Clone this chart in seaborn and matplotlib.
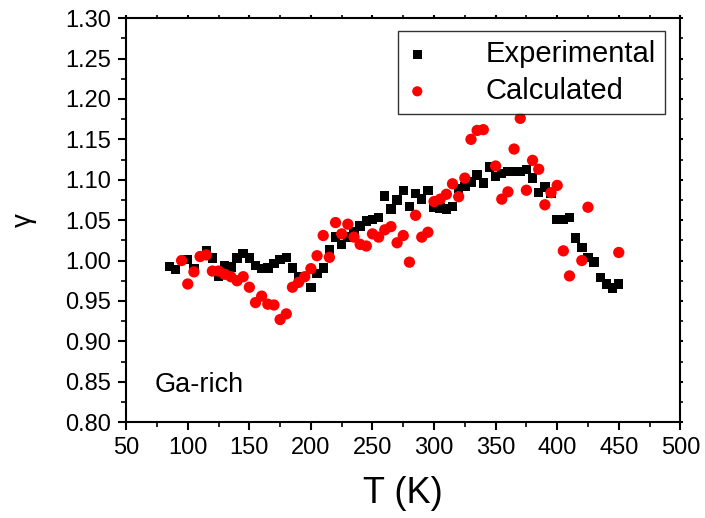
import matplotlib
matplotlib.use("Agg")
import matplotlib.pyplot as plt
import seaborn as sns
import pandas as pd
from matplotlib.ticker import MultipleLocator, FormatStrFormatter

sns.set_style("ticks")
plt.rcParams['font.family'] = ['Liberation Sans', 'DejaVu Sans']
plt.rcParams['text.color'] = 'black'
plt.rcParams['axes.labelcolor'] = 'black'
plt.rcParams['xtick.color'] = 'black'
plt.rcParams['ytick.color'] = 'black'

exp_T = [85, 90, 100, 105, 115, 120, 125, 130, 135, 140, 145, 150, 155, 160, 165, 170,
         175, 180, 185, 190, 200, 205, 210, 215, 220, 225, 230, 235, 240, 245, 250, 255,
         260, 265, 270, 275, 280, 285, 290, 295, 300, 305, 310, 315, 320, 325, 330, 335,
         340, 345, 350, 355, 360, 365, 370, 375, 380, 385, 390, 395, 400, 405, 410, 415,
         420, 425, 430, 435, 440, 445, 450]
exp_g = [0.993, 0.989, 1.001, 0.990, 1.012, 1.003, 0.980, 0.994, 0.992, 1.003, 1.009, 1.003,
         0.994, 0.990, 0.991, 0.996, 1.001, 1.004, 0.991, 0.980, 0.967, 0.984, 0.991, 1.014,
         1.029, 1.020, 1.029, 1.036, 1.043, 1.049, 1.051, 1.053, 1.080, 1.064, 1.075, 1.087,
         1.067, 1.083, 1.076, 1.087, 1.066, 1.065, 1.064, 1.067, 1.089, 1.092, 1.097, 1.106,
         1.096, 1.116, 1.104, 1.108, 1.110, 1.110, 1.110, 1.113, 1.102, 1.084, 1.091, 1.083,
         1.051, 1.051, 1.053, 1.028, 1.016, 1.004, 0.998, 0.979, 0.971, 0.966, 0.971]

calc_T = [95, 100, 105, 110, 115, 120, 125, 130, 135, 140, 145, 150, 155, 160, 165, 170,
          175, 180, 185, 190, 195, 200, 205, 210, 215, 220, 225, 230, 235, 240, 245, 250,
          255, 260, 265, 270, 275, 280, 285, 290, 295, 300, 305, 310, 315, 320, 325, 330,
          335, 340, 350, 355, 360, 365, 370, 375, 380, 385, 390, 395, 400, 405, 410, 420,
          425, 450]
calc_g = [1.000, 0.971, 0.986, 1.005, 1.007, 0.987, 0.987, 0.983, 0.980, 0.975, 0.980, 0.967,
          0.948, 0.956, 0.946, 0.945, 0.927, 0.934, 0.967, 0.973, 0.980, 0.990, 1.006, 1.031,
          1.004, 1.047, 1.033, 1.045, 1.029, 1.020, 1.018, 1.033, 1.029, 1.038, 1.042, 1.022,
          1.031, 0.998, 1.056, 1.029, 1.035, 1.073, 1.076, 1.082, 1.095, 1.079, 1.102, 1.150,
          1.161, 1.162, 1.117, 1.076, 1.085, 1.138, 1.176, 1.087, 1.124, 1.113, 1.069, 1.084,
          1.093, 1.012, 0.981, 1.000, 1.066, 1.010]

df_exp = pd.DataFrame({"T": exp_T, "g": exp_g})
df_calc = pd.DataFrame({"T": calc_T, "g": calc_g})

fig = plt.figure(figsize=(7.05, 5.18), dpi=100)
ax = fig.add_axes([0.179, 0.185, 0.786, 0.780])

sns.scatterplot(data=df_exp, x="T", y="g", ax=ax, marker="s", s=46, color="black",
                edgecolor="none", linewidth=0, label="Experimental", zorder=2)
sns.scatterplot(data=df_calc, x="T", y="g", ax=ax, marker="o", s=66, color="red",
                edgecolor="none", linewidth=0, label="Calculated", zorder=3)

ax.set_xlim(50, 500)
ax.set_ylim(0.80, 1.30)
ax.xaxis.set_major_locator(MultipleLocator(50))
ax.xaxis.set_minor_locator(MultipleLocator(25))
ax.yaxis.set_major_locator(MultipleLocator(0.05))
ax.yaxis.set_minor_locator(MultipleLocator(0.025))
ax.yaxis.set_major_formatter(FormatStrFormatter('%.2f'))

for sp in ax.spines.values():
    sp.set_linewidth(1.5)
    sp.set_color("black")

ax.tick_params(which="major", direction="out", length=6, width=1.5, labelsize=17,
               colors="black", pad=5)
ax.tick_params(which="minor", direction="out", length=3.5, width=1.2)
ax.tick_params(which="both", top=True, right=True, labeltop=False, labelright=False)
for t in ax.xaxis.get_major_ticks() + ax.xaxis.get_minor_ticks():
    t.tick2line.set_markersize(2)
for t in ax.yaxis.get_major_ticks() + ax.yaxis.get_minor_ticks():
    t.tick2line.set_markersize(2)

ax.set_xlabel("T (K)", fontsize=26, labelpad=12)
ax.set_ylabel("γ", fontsize=20, labelpad=20)

ax.text(73, 0.846, "Ga-rich", fontsize=19.5, ha="left", va="center")

leg = ax.legend(loc="upper right", bbox_to_anchor=(0.972, 0.967), fontsize=21,
                frameon=True, fancybox=False, edgecolor="black", handletextpad=2.0,
                borderpad=0.3, labelspacing=0.3, handlelength=0.7, markerscale=0.9,
                borderaxespad=0)
leg.get_frame().set_linewidth(1.0)

fig.savefig("out.png", dpi=100)
